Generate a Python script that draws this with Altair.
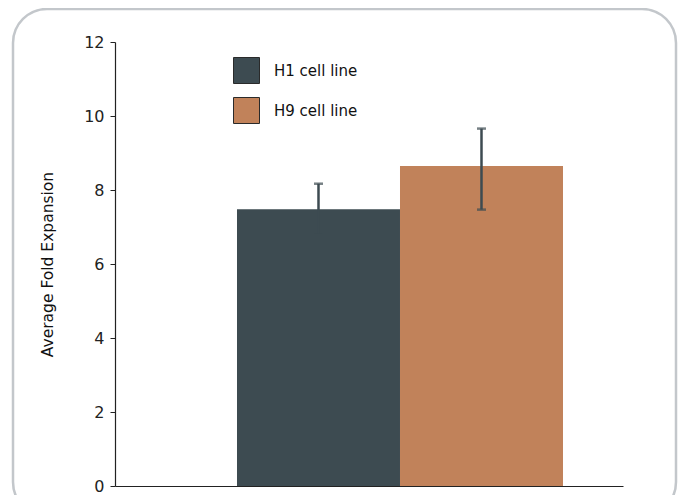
import altair as alt
import pandas as pd

lines = ["H1 cell line", "H9 cell line"]
means = [7.48, 8.65]
err_low = [6.79, 7.47]
err_high = [8.17, 9.66]
colors = ["#3d4b51", "#c1825a"]

df = pd.DataFrame({"line": lines, "mean": means, "lo": err_low, "hi": err_high})

FONT = "DejaVu Sans"

xscale = alt.Scale(domain=lines, paddingInner=0, paddingOuter=0.5583, align=0.6703)
yscale = alt.Scale(domain=[0, 12], nice=False)

base = alt.Chart(df)

border = alt.Chart(pd.DataFrame({"b": [0]})).mark_rect(
    fill="white", fillOpacity=0, stroke="#c3c7cb", strokeWidth=2.5, cornerRadius=34
).encode(
    x=alt.value(-102), x2=alt.value(561), y=alt.value(-33), y2=alt.value(474)
)

bars = base.mark_bar().encode(
    x=alt.X("line:N", scale=xscale,
            axis=alt.Axis(labels=False, ticks=False, title=None, domain=True,
                          domainColor="#222", domainWidth=1.2, domainOpacity=1, zindex=1)),
    y=alt.Y("mean:Q", scale=yscale,
            axis=alt.Axis(values=[0, 2, 4, 6, 8, 10, 12], title="Average Fold Expansion",
                          grid=False, tickSize=5, tickColor="#222", domainColor="#222",
                          domainWidth=1.2, labelFontSize=16, labelColor="#222", labelFont=FONT,
                          labelPadding=6, titleFont=FONT, titleFontSize=15.5,
                          titleFontWeight="normal", titleColor="#111", titlePadding=28,
                          zindex=1)),
    color=alt.Color("line:N", scale=alt.Scale(domain=lines, range=colors),
                    legend=alt.Legend(title=None, orient="none", legendX=118, legendY=15,
                                      symbolType="square", symbolSize=676, symbolStrokeColor="#2a2a2a",
                                      symbolStrokeWidth=1, symbolOpacity=1, labelFont=FONT,
                                      labelFontSize=15, labelColor="#111", labelOffset=14,
                                      rowPadding=9)),
)

rules = base.mark_rule(color="#3d4b51", strokeWidth=2.5).encode(
    x=alt.X("line:N", scale=xscale),
    y=alt.Y("lo:Q", scale=yscale),
    y2="hi:Q",
)

caps_hi = base.mark_tick(color="#3d4b51", size=9, thickness=2.5).encode(
    x=alt.X("line:N", scale=xscale),
    y=alt.Y("hi:Q", scale=yscale),
)
caps_lo = base.mark_tick(color="#3d4b51", size=9, thickness=2.5).encode(
    x=alt.X("line:N", scale=xscale),
    y=alt.Y("lo:Q", scale=yscale),
)

chart = alt.layer(border, bars, rules, caps_hi, caps_lo).properties(
    width=508, height=444,
    background="white",
    autosize=alt.AutoSizeParams(type="none"),
    padding={"left": 107, "top": 34, "right": 55, "bottom": 9},
).configure_view(stroke=None)

chart.save("out.html", embed_options={"renderer": "svg", "actions": False})
